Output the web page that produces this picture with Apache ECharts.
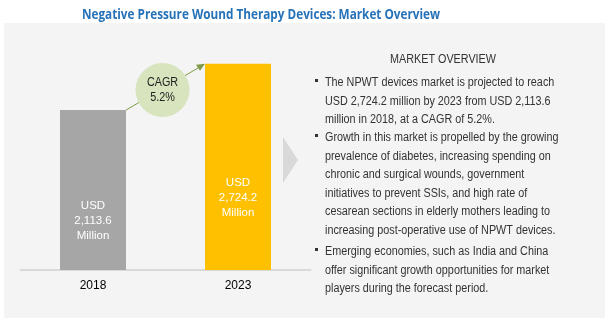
<!DOCTYPE html>
<html><head><meta charset="utf-8">
<script src="https://cdn.jsdelivr.net/npm/echarts@6/dist/echarts.min.js"></script>
<style>html,body{margin:0;padding:0;background:#fff}#c{width:611px;height:324px}</style>
</head><body><div id="c"></div>
<script>
var categories = ['2018', '2023'];
var values = [2113.6, 2724.2];
var barLabels = ['USD\n2,113.6\nMillion', 'USD\n2,724.2\nMillion'];
var cagrText = 'CAGR\n5.2%';
var titleText = 'Negative Pressure Wound Therapy Devices: Market Overview';
var overviewHeading = 'MARKET OVERVIEW';
var bullets = [
  ['The NPWT devices market is projected to reach', 'USD 2,724.2 million by 2023 from USD 2,113.6', 'million in 2018, at a CAGR of 5.2%.'],
  ['Growth in this market is propelled by the growing', 'prevalence of diabetes, increasing spending on', 'chronic and surgical wounds, government', 'initiatives to prevent SSIs, and high rate of', 'cesarean sections in elderly mothers leading to', 'increasing post-operative use of NPWT devices.'],
  ['Emerging economies, such as India and China', 'offer significant growth opportunities for market', 'players during the forecast period.']
];

var FONT = '"Liberation Sans", Arial, sans-serif';
var chart = echarts.init(document.getElementById('c'));
var barColors = ['#a6a6a6', '#ffc000'];
var labelDist = [27, 50];

var option = {
  animation: false,
  backgroundColor: '#ffffff',
  grid: {left: 20.5, right: 300.5, top: 43, bottom: 54},
  xAxis: {
    type: 'category', data: categories,
    axisLine: {lineStyle: {color: '#d9d9d9', width: 2}},
    axisTick: {show: false},
    axisLabel: {color: '#000', fontSize: 12, margin: 10, fontFamily: FONT}
  },
  yAxis: {type: 'value', min: 0, max: 3000, show: false, splitLine: {show: false}},
  series: [{
    type: 'bar', barWidth: 66, z: 3,
    data: values.map(function (v, i) {
      return {
        value: v,
        itemStyle: {color: barColors[i]},
        label: {show: true, position: 'insideBottom', distance: labelDist[i], formatter: barLabels[i],
          color: '#ffffff', fontSize: 11.5, lineHeight: 15, fontFamily: FONT}
      };
    })
  }]
};
chart.setOption(option);

var p0 = chart.convertToPixel({xAxisIndex: 0, yAxisIndex: 0}, [categories[0], values[0]]);
var p1 = chart.convertToPixel({xAxisIndex: 0, yAxisIndex: 0}, [categories[1], values[1]]);
var half = 33;
var x0 = p0[0] + half, y0 = p0[1], x1 = p1[0] - half, y1 = p1[1];
var cx = (x0 + x1) / 2 - 3, cy = (y0 + y1) / 2 + 3;
var SX = 0.9;

var g = [
  {type: 'rect', z: -10, shape: {x: 4, y: 23, width: 601, height: 295}, style: {fill: '#f4f4f4'}},
  {type: 'text', z: 12, x: 261, y: 15, scaleX: 0.87, style: {text: titleText, fill: '#2672b8', font: 'bold 13.5px "Open Sans", sans-serif', align: 'center', verticalAlign: 'middle'}},
  {type: 'line', z: 10, shape: {x1: x0, y1: y0, x2: x1 - 2, y2: y1 + 1.2}, style: {stroke: '#7f9a48', lineWidth: 1}},
  {type: 'polygon', z: 10, shape: {points: [[x1, y1], [x1 - 9, y1 + 1], [x1 - 5, y1 + 7]]}, style: {fill: '#7f9a48'}},
  {type: 'circle', z: 11, shape: {cx: cx, cy: cy, r: 27}, style: {fill: '#d7e4bd'}},
  {type: 'text', z: 12, x: cx, y: cy, scaleX: SX, style: {text: cagrText, fill: '#222', font: '12px ' + FONT, align: 'center', verticalAlign: 'middle', lineHeight: 15}},
  {type: 'polygon', z: 5, shape: {points: [[283, 137], [298, 160], [283, 183]]}, style: {fill: '#d9d9d9'}},
  {type: 'text', z: 12, x: 443, y: 60, scaleX: SX, style: {text: overviewHeading, fill: '#333', font: '12px ' + FONT, align: 'center', verticalAlign: 'middle'}}
];
var startY = [83, 138, 252];
var lh = 18.5;
bullets.forEach(function (lines, bi) {
  g.push({type: 'rect', z: 12, shape: {x: 315, y: startY[bi] - 4, width: 3, height: 3}, style: {fill: '#333'}});
  lines.forEach(function (t, li) {
    g.push({type: 'text', z: 12, x: 325, y: startY[bi] + li * lh, scaleX: SX, style: {text: t, fill: '#333', font: '12px ' + FONT, align: 'left', verticalAlign: 'middle'}});
  });
});
chart.setOption({graphic: g});
</script></body></html>
